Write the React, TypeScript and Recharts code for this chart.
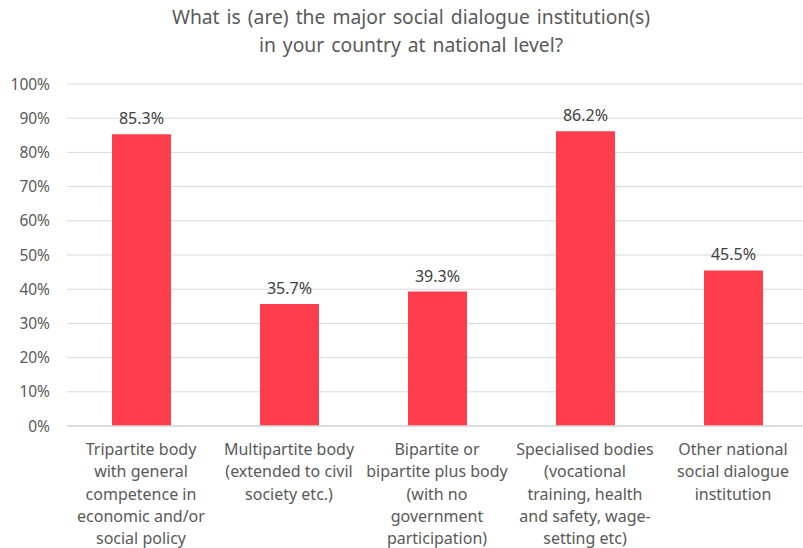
import { BarChart, Bar, XAxis, YAxis, CartesianGrid, LabelList } from "recharts"

const categories = [
  "Tripartite body|with general|competence in|economic and/or|social policy",
  "Multipartite body|(extended to civil|society etc.)",
  "Bipartite or|bipartite plus body|(with no|government|participation)",
  "Specialised bodies|(vocational|training, health|and safety, wage-|setting etc)",
  "Other national|social dialogue|institution",
]
const shares = [85.3, 35.7, 39.3, 86.2, 45.5]
const yTicks = [0, 10, 20, 30, 40, 50, 60, 70, 80, 90, 100]

const data = categories.map((name, i) => ({ name, value: shares[i] }))

const FONT = "'Noto Sans', 'Open Sans', sans-serif"

function CategoryTick({ x, y, payload }: any) {
  const lines = String(payload.value).split("|")
  return (
    <text x={x} y={y} textAnchor="middle" fill="#595959" fontSize={16} fontFamily={FONT}>
      {lines.map((l, i) => (
        <tspan key={i} x={x} dy={i === 0 ? 21 : 22.3}>
          {l}
        </tspan>
      ))}
    </text>
  )
}

export default function App() {
  return (
    <div
      style={{
        position: "absolute",
        left: 0,
        top: 0,
        width: 803,
        height: 548,
        overflow: "hidden",
        background: "#fff",
      }}
    >
      <div
        style={{
          position: "absolute",
          left: 0,
          top: 3,
          width: 822,
          textAlign: "center",
          fontFamily: FONT,
          fontSize: 19.3,
          lineHeight: "28px",
          color: "#595959",
          wordSpacing: 2,
        }}
      >
        What is (are) the major social dialogue institution(s)
        <br />
        in your country at national level?
      </div>
      <BarChart
        width={807}
        height={548}
        data={data}
        margin={{ top: 84, right: 0, bottom: 0, left: 0 }}
        barSize={59}
      >
        <CartesianGrid vertical={false} stroke="#d9d9d9" strokeWidth={1} />
        <XAxis
          dataKey="name"
          height={122}
          interval={0}
          tickLine={false}
          axisLine={{ stroke: "#d9d9d9", strokeWidth: 1.5 }}
          tick={<CategoryTick />}
        />
        <YAxis
          width={67}
          domain={[0, 100]}
          ticks={yTicks}
          tickFormatter={(v: number) => `${v}%`}
          axisLine={false}
          tickLine={false}
          tickMargin={11}
          tick={{ fontSize: 15.5, fill: "#595959", fontFamily: FONT }}
        />
        <Bar dataKey="value" fill="#ff3d4d" isAnimationActive={false}>
          <LabelList
            dataKey="value"
            position="top"
            offset={10}
            formatter={(v: number) => `${v.toFixed(1)}%`}
            style={{ fontSize: 16, fill: "#404040", fontFamily: FONT }}
          />
        </Bar>
      </BarChart>
    </div>
  )
}
